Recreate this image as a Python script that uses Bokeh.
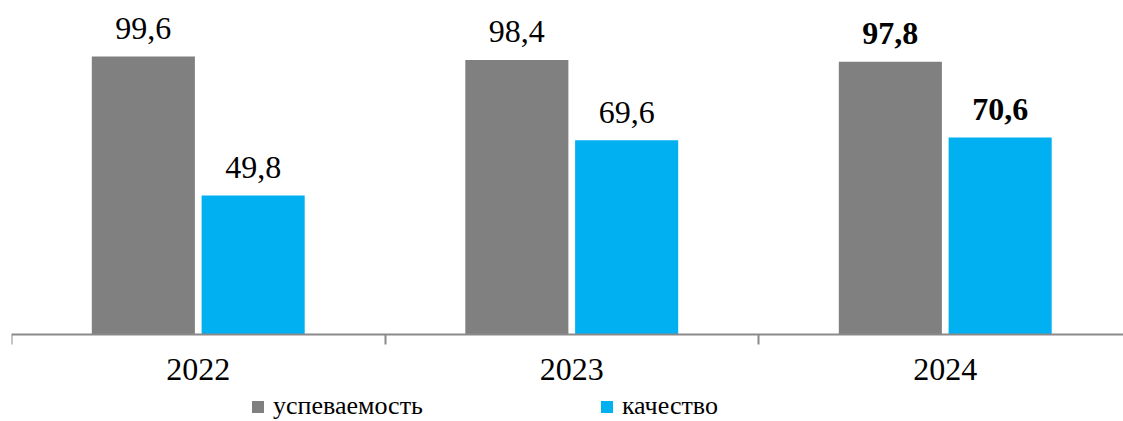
from bokeh.plotting import figure
from bokeh.models import ColumnDataSource, Range1d, FixedTicker, Legend, LegendItem
from bokeh.core.properties import value
from bokeh.embed import file_html
from bokeh.resources import INLINE

years = ["2022", "2023", "2024"]
uspevaemost = [99.6, 98.4, 97.8]
kachestvo = [49.8, 69.6, 70.6]
series_names = ["успеваемость", "качество"]

FONT = "Liberation Serif"
GRAY = "#808080"
BLUE = "#00B0F0"
AXIS = "#8a8a8a"

n = len(years)
centers = [i + 0.5 for i in range(n)]
off = 0.147
bw = 0.276
PX = 2.79  # pixels per unit

def fmt(v):
    return f"{v:.1f}".replace(".", ",")

styles = ["normal"] * (n - 1) + ["bold"]

src_g = ColumnDataSource(dict(x=[c - off for c in centers], top=uspevaemost,
                              lab=[fmt(v) for v in uspevaemost], st=styles))
src_b = ColumnDataSource(dict(x=[c + off for c in centers], top=kachestvo,
                              lab=[fmt(v) for v in kachestvo], st=styles))

p = figure(width=1123, height=421, output_backend="svg", toolbar_location=None,
           x_range=Range1d(0, 1112 / 373.5),
           y_range=Range1d(-(421 - 334) / PX, 334 / PX),
           min_border_left=11, min_border_right=0, min_border_top=0, min_border_bottom=0,
           y_axis_location=None)
p.outline_line_color = None
p.xgrid.visible = False
p.ygrid.visible = False

rg = p.vbar(x="x", top="top", bottom=0, width=bw, source=src_g, color=GRAY, line_color=None)
rb = p.vbar(x="x", top="top", bottom=0, width=bw, source=src_b, color=BLUE, line_color=None)

for s in (src_g, src_b):
    p.text(x="x", y="top", text="lab", source=s, text_font=value(FONT),
           text_font_size="32px", text_font_style="st", text_color="black",
           text_align="center", text_baseline="alphabetic", y_offset=-28)

ax = p.xaxis[0]
ax.fixed_location = 0
ax.ticker = FixedTicker(ticks=centers, minor_ticks=list(range(n + 1)))
ax.major_label_overrides = {c: y for c, y in zip(centers, years)}
ax.major_tick_out = 0
ax.major_tick_in = 0
ax.minor_tick_out = 10
ax.minor_tick_in = 0
ax.minor_tick_line_color = AXIS
ax.minor_tick_line_width = 2
ax.axis_line_color = AXIS
ax.axis_line_width = 2
ax.major_label_text_font = FONT
ax.major_label_text_font_size = "32px"
ax.major_label_text_color = "black"
ax.major_label_standoff = 14

legend = Legend(items=[LegendItem(label=series_names[0], renderers=[rg]),
                       LegendItem(label=series_names[1], renderers=[rb])],
                orientation="horizontal", location=(239, 0),
                glyph_width=15, glyph_height=15, label_standoff=8, spacing=176,
                label_text_font=FONT, label_text_font_size="26px",
                label_text_color="black", padding=0, margin=0,
                border_line_color=None, background_fill_alpha=0)
p.add_layout(legend, "center")

open("out.html", "w").write(file_html(p, INLINE))
